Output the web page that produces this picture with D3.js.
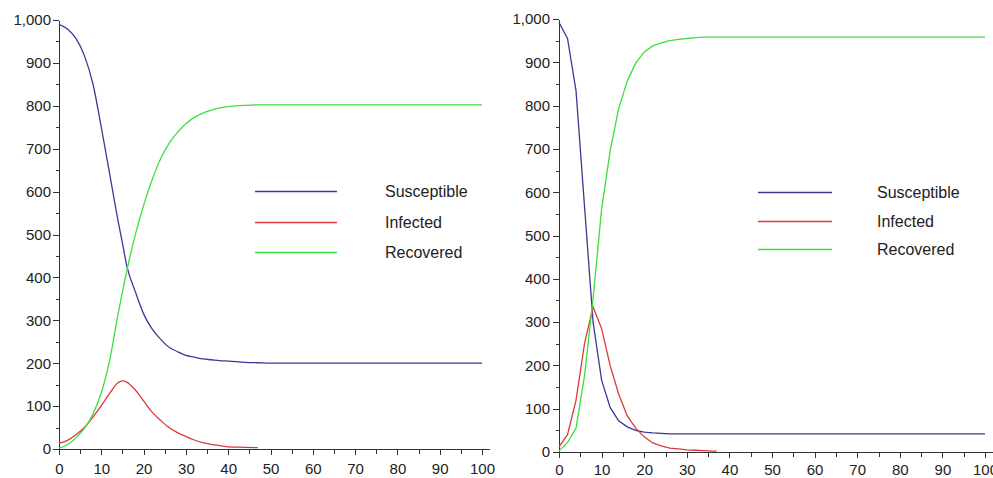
<!DOCTYPE html>
<html>
<head>
<meta charset="utf-8">
<script src="https://cdn.jsdelivr.net/npm/d3@7"></script>
<style>
  body { margin: 0; background: #fff; }
  svg text { font-family: "Liberation Sans", Arial, sans-serif; fill: #222; }
  .axis path, .axis line { stroke: #333; shape-rendering: crispEdges; }
</style>
</head>
<body>
<svg id="chart" width="993" height="478"></svg>
<script>
// left model: time steps and compartments
var timeLeft = [0, 2, 4, 6, 8, 10, 12, 14, 15, 16, 18, 20, 22, 24, 26, 28, 30, 32, 34, 36, 38, 40, 44, 47, 50, 60, 70, 80, 90, 100];
var susLeft = [990, 979, 957, 917, 852, 750, 640, 530, 480, 428, 368, 315, 280, 256, 237, 227, 218, 214, 210, 208, 206, 205, 202, 201, 200, 200, 200, 200, 200, 200];
var infLeft = [13, 20, 33, 50, 74, 101, 130, 155, 159, 156, 138, 112, 86, 67, 50, 38, 29, 21, 15, 11, 8, 5, 4, 3, null, null, null, null, null, null];
var recLeft = [2, 10, 26, 48, 81, 131, 208, 316, 366, 414, 498, 568, 627, 676, 712, 738, 758, 773, 783, 790, 795, 798, 801, 802, 802, 802, 802, 802, 802, 802];

// right model
var timeRight = [0, 2, 4, 6, 8, 10, 12, 14, 16, 18, 20, 22, 24, 26, 28, 30, 32, 34, 36, 37, 40, 50, 60, 70, 80, 90, 100];
var susRight = [992, 955, 834, 566, 300, 166, 103, 72, 58, 50, 46, 44, 43, 42, 42, 42, 42, 42, 42, 42, 42, 42, 42, 42, 42, 42, 42];
var infRight = [12, 40, 120, 251, 335, 285, 200, 134, 84, 55, 35, 21, 14, 9, 7, 5, 4, 3, 2, 2, null, null, null, null, null, null, null];
var recRight = [2, 22, 55, 177, 354, 561, 695, 793, 856, 898, 924, 938, 945, 950, 953, 955, 957, 958, 958, 958, 958, 958, 958, 958, 958, 958, 958];

var seriesNames = ['Susceptible', 'Infected', 'Recovered'];
var seriesColors = ['#3a3a96', '#dc3a3a', '#3ce03c'];
var yTicks = [0, 100, 200, 300, 400, 500, 600, 700, 800, 900, 1000];
var yMinor = [50, 150, 250, 350, 450, 550, 650, 750, 850, 950];
var xTicks = [0, 10, 20, 30, 40, 50, 60, 70, 80, 90, 100];
var xMinor = [5, 15, 25, 35, 45, 55, 65, 75, 85, 95];

var svg = d3.select('#chart');

function drawPanel(p) {
  var x = d3.scaleLinear().domain([0, 100]).range([p.left, p.right]);
  var y = d3.scaleLinear().domain([0, 1000]).range([p.bottom, p.top]);

  var g = svg.append('g');

  // minor ticks
  g.append('g').attr('class', 'axis')
    .attr('transform', 'translate(' + p.left + ',0)')
    .call(d3.axisLeft(y).tickValues(yMinor).tickSize(3).tickSizeOuter(0).tickFormat(''))
    .select('.domain').remove();
  g.append('g').attr('class', 'axis')
    .attr('transform', 'translate(0,' + p.bottom + ')')
    .call(d3.axisBottom(x).tickValues(xMinor).tickSize(5).tickSizeOuter(0).tickFormat(''))
    .select('.domain').remove();

  var ya = g.append('g').attr('class', 'axis')
    .attr('transform', 'translate(' + p.left + ',0)')
    .call(d3.axisLeft(y).tickValues(yTicks).tickSize(6).tickSizeOuter(0)
      .tickPadding(p.yPad).tickFormat(d3.format(',')));
  ya.selectAll('text').style('font-size', '15px');

  var xa = g.append('g').attr('class', 'axis')
    .attr('transform', 'translate(0,' + p.bottom + ')')
    .call(d3.axisBottom(x).tickValues(xTicks).tickSize(6).tickSizeOuter(0)
      .tickPadding(p.xPad));
  xa.selectAll('text').style('font-size', '15px');
  // axis line runs a little past 100
  xa.append('line').attr('x1', p.right).attr('x2', p.right + 8)
    .attr('y1', 0).attr('y2', 0);

  var cols = [p.sus, p.inf, p.rec];
  cols.forEach(function(vals, k) {
    var pts = p.time.map(function(t, i) { return [t, vals[i]]; });
    var line = d3.line()
      .defined(function(d) { return d[1] !== null; })
      .x(function(d) { return x(d[0]); })
      .y(function(d) { return y(d[1]); })
      .curve(p.curve);
    g.append('path').datum(pts)
      .attr('fill', 'none')
      .attr('stroke', seriesColors[k])
      .attr('stroke-width', 1.3)
      .attr('d', line);
  });

  // legend
  seriesNames.forEach(function(name, k) {
    var ly = p.legY[k];
    g.append('line')
      .attr('x1', p.legX1).attr('x2', p.legX2)
      .attr('y1', ly).attr('y2', ly)
      .attr('stroke', seriesColors[k]).attr('stroke-width', 1.3);
    g.append('text')
      .attr('x', p.legText).attr('y', ly + 1)
      .attr('dominant-baseline', 'middle')
      .style('font-size', '16px')
      .text(name);
  });
}

drawPanel({
  left: 59, right: 482, top: 20, bottom: 449, yPad: 2, xPad: 8,
  time: timeLeft, sus: susLeft, inf: infLeft, rec: recLeft,
  curve: d3.curveMonotoneX,
  legX1: 255, legX2: 337, legText: 385, legY: [191.5, 222.5, 252.5]
});

drawPanel({
  left: 559, right: 985, top: 19, bottom: 452, yPad: 3, xPad: 6,
  time: timeRight, sus: susRight, inf: infRight, rec: recRight,
  curve: d3.curveLinear,
  legX1: 758, legX2: 832, legText: 877, legY: [192.5, 221.5, 249.5]
});
</script>
</body>
</html>
